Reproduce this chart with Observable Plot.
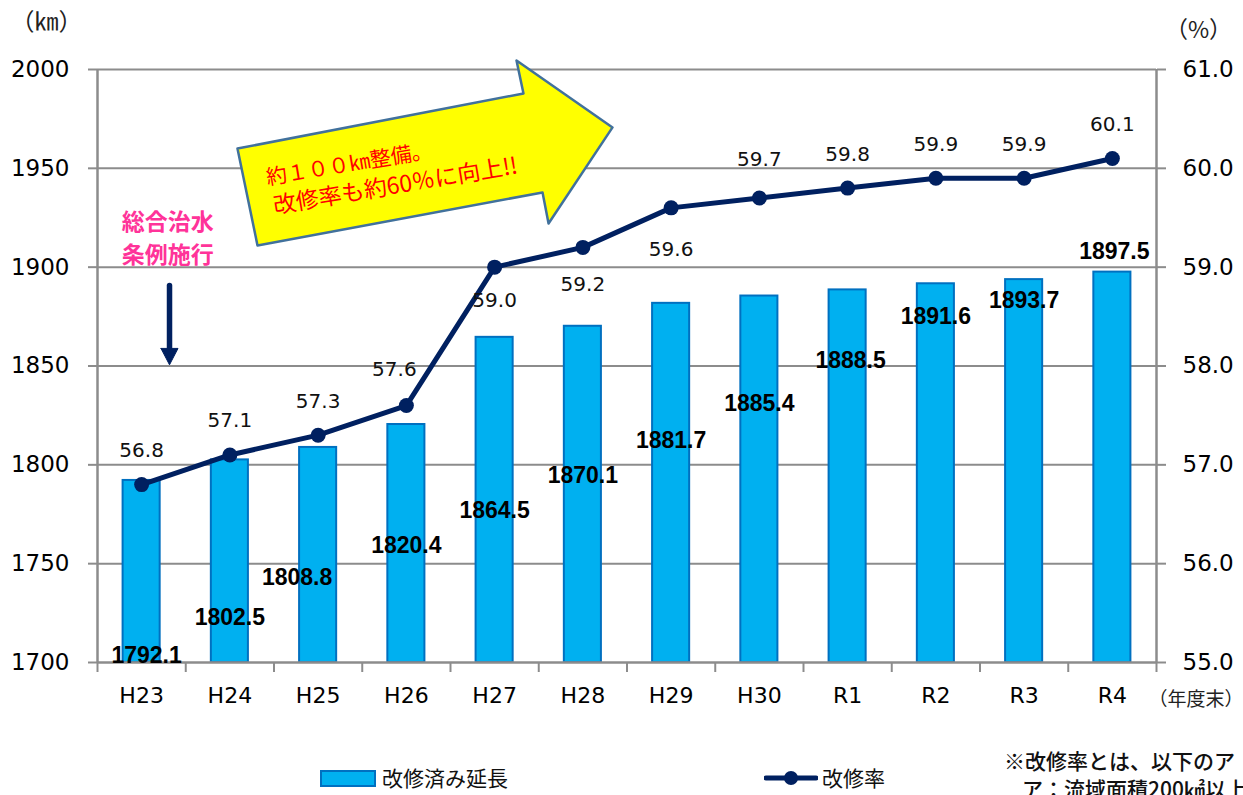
<!DOCTYPE html>
<html>
<head>
<meta charset="utf-8">
<script src="https://cdn.jsdelivr.net/npm/d3@7"></script>
<script src="https://cdn.jsdelivr.net/npm/@observablehq/plot@0.6"></script>
<style>
  html, body { margin: 0; padding: 0; background: #fff; }
  body { width: 1243px; height: 795px; overflow: hidden; font-family: "DejaVu Sans", "Noto Sans CJK JP", sans-serif; }
  #legend { position: relative; width: 1243px; height: 50px; overflow: hidden; white-space: nowrap; font-family: "Noto Sans CJK JP", sans-serif; }
  #legend .item { position: absolute; font-size: 21px; line-height: 24px; color: #111; }
  #legend .note { position: absolute; font-size: 21px; line-height: 26px; font-weight: 500; color: #111; }
</style>
</head>
<body>
<div id="chart"></div>
<div id="legend">
  <div style="position:absolute;left:320px;top:25px;width:52px;height:13px;background:#00B0F0;border:2px solid #0070C0;"></div>
  <div class="item" style="left:382px;top:20px;">改修済み延長</div>
  <svg style="position:absolute;left:764px;top:24px;" width="54" height="18"><line x1="2" y1="9" x2="52" y2="9" stroke="#002060" stroke-width="5" stroke-linecap="round"/><circle cx="27" cy="9" r="7" fill="#002060"/></svg>
  <div class="item" style="left:822px;top:20px;">改修率</div>
  <div class="note" style="left:1004px;top:2px;">※改修率とは、以下のア</div>
  <div class="note" style="left:1022px;top:30px;">ア：流域面積200㎢以上</div>
</div>
<script>
// ---- data ----
const years = ["H23","H24","H25","H26","H27","H28","H29","H30","R1","R2","R3","R4"];
const lengthKm = [1792.1,1802.5,1808.8,1820.4,1864.5,1870.1,1881.7,1885.4,1888.5,1891.6,1893.7,1897.5];
const ratePct = [56.8,57.1,57.3,57.6,59.0,59.2,59.6,59.7,59.8,59.9,59.9,60.1];
const kmTicks = [1700,1750,1800,1850,1900,1950,2000];
const pctTicks = [55.0,56.0,57.0,58.0,59.0,60.0,61.0];

// ---- label layout (annotation placement) ----
const barLabelKm = [1703.5,1722.8,1743.0,1759.2,1776.9,1794.6,1812.3,1831.0,1852.8,1875.0,1883.1,1907.9];
const barLabelDx = [5,0,-21,0,0,0,0,0,3,0,0,2];
const rateLabelDy = [-34,-34,-34,-36,33,37,42,-38,-34,-34,-34,-34];
const rateLabelDx = [0,0,0,-12,0,0,0,0,0,0,0,0];
// arrow annotation polygon in (category index, km)
const bigArrow = [[1.086,1960.0],[4.327,1987.9],[4.248,2004.6],[5.336,1970.7],[4.611,1922.1],[4.543,1937.8],[1.313,1911.0],[1.086,1960.0]];
const downShaft = [[0.316,1890.7],[0.316,1857.0]];
const downHead = [[0.2195,1858.9],[0.4122,1858.9],[0.3159,1850.6],[0.2195,1858.9]];

// y-scale mapping of the % axis onto the km axis
const kmMin = 1700, kmMax = 2000, pMin = 55, pMax = 61;
const pctToKm = p => kmMin + (p - pMin) * (kmMax - kmMin) / (pMax - pMin);

const data = years.map((y, i) => ({i, year: y, km: lengthKm[i], pct: ratePct[i], pctKm: pctToKm(ratePct[i]), labelKm: barLabelKm[i]}));

const grid = "#8c8c8c";
const navy = "#002060";
const numFont = "'DejaVu Sans', 'Noto Sans', sans-serif";
const boldFont = "'Liberation Sans', Arial, sans-serif";
const cjk = "'Noto Sans CJK JP', sans-serif";

const chart = Plot.plot({
  width: 1243,
  height: 745,
  marginLeft: 97,
  marginRight: 87,
  marginTop: 69,
  marginBottom: 83,
  x: {type: "linear", domain: [-0.5, 11.5], axis: null},
  y: {domain: [kmMin, kmMax], axis: null},
  style: {fontFamily: numFont, fontSize: "22px", color: "black", background: "white", overflow: "visible"},
  marks: [
    Plot.ruleY(kmTicks.slice(1), {stroke: grid, strokeWidth: 2}),
    Plot.axisY({anchor: "left", ticks: kmTicks, tickFormat: d => String(d), tickSize: 9, tickPadding: 19, stroke: grid, strokeWidth: 2, fill: "black", fontSize: 23, label: null}),
    Plot.axisY({anchor: "right", ticks: pctTicks.map(pctToKm), tickFormat: d => (pMin + (d - kmMin) * (pMax - pMin) / (kmMax - kmMin)).toFixed(1), tickSize: 9, tickPadding: 17, stroke: grid, strokeWidth: 2, fill: "black", fontSize: 23, label: null}),
    Plot.axisX({ticks: d3.range(13).map(k => k - 0.5), tickSize: 10, tickFormat: () => "", stroke: grid, strokeWidth: 2, label: null}),
    Plot.axisX({ticks: d3.range(years.length), tickSize: 0, tickPadding: 25, tickFormat: i => years[i], fill: "black", fontSize: 22, label: null}),
    Plot.rectY(data, {x1: d => d.i - 0.21, x2: d => d.i + 0.21, y1: kmMin, y2: "km", fill: "#00B0F0", stroke: "#0070C0", strokeWidth: 2}),
    Plot.ruleX([-0.5, 11.5], {stroke: grid, strokeWidth: 2.5}),
    Plot.ruleY([kmMin], {stroke: grid, strokeWidth: 2.5}),
    Plot.line(data, {x: "i", y: "pctKm", stroke: navy, strokeWidth: 5}),
    Plot.dot(data, {x: "i", y: "pctKm", r: 7.5, fill: navy}),
    ...data.map(d => Plot.text([d], {x: "i", y: "pctKm", text: d => d.pct.toFixed(1), dx: rateLabelDx[d.i], dy: rateLabelDy[d.i], fontSize: 20, fill: "#111"})),
    ...data.map(d => Plot.text([d], {x: "i", y: "labelKm", text: d => d.km.toFixed(1), dx: barLabelDx[d.i], fontSize: 23, fontWeight: "bold", fontFamily: boldFont, fill: "black"})),
    // big yellow arrow annotation
    Plot.line(bigArrow, {x: d => d[0], y: d => d[1], fill: "#FFFF00", stroke: "#41719C", strokeWidth: 2.5, curve: "linear"}),
    Plot.text(["約１００㎞整備。"], {x: 1.415, y: 1944.9, text: d => d, rotate: -9.5, textAnchor: "start", fill: "#FF0000", fontSize: 21, fontFamily: cjk}),
    Plot.text(["改修率も約60％に向上!!"], {x: 1.494, y: 1930.7, text: d => d, rotate: -9.5, textAnchor: "start", fill: "#FF0000", fontSize: 23, fontFamily: cjk}),
    // ordinance annotation
    Plot.text(["総合治水"], {x: 0.296, y: 1922.6, text: d => d, fill: "#FF3399", fontSize: 23, fontWeight: "bold", fontFamily: cjk}),
    Plot.text(["条例施行"], {x: 0.296, y: 1905.9, text: d => d, fill: "#FF3399", fontSize: 23, fontWeight: "bold", fontFamily: cjk}),
    Plot.line(downShaft, {x: d => d[0], y: d => d[1], stroke: navy, strokeWidth: 5.5}),
    Plot.line(downHead, {x: d => d[0], y: d => d[1], fill: navy, stroke: navy, strokeWidth: 1}),
    // unit labels
    Plot.text(["（㎞）"], {frameAnchor: "top-left", text: d => d, textAnchor: "middle", lineAnchor: "middle", dx: -51, dy: -47, fontSize: 24, fontFamily: cjk, fill: "#222"}),
    Plot.text(["（%）"], {frameAnchor: "top-right", text: d => d, textAnchor: "middle", lineAnchor: "middle", dx: 42, dy: -39, fontSize: 23, fontFamily: cjk, fill: "#222"}),
    Plot.text(["（年度末）"], {frameAnchor: "bottom-right", text: d => d, textAnchor: "start", lineAnchor: "middle", dx: -8, dy: 37, fontSize: 19, fontFamily: cjk, fill: "#222"})
  ]
});
document.getElementById("chart").appendChild(chart);
</script>
</body>
</html>
